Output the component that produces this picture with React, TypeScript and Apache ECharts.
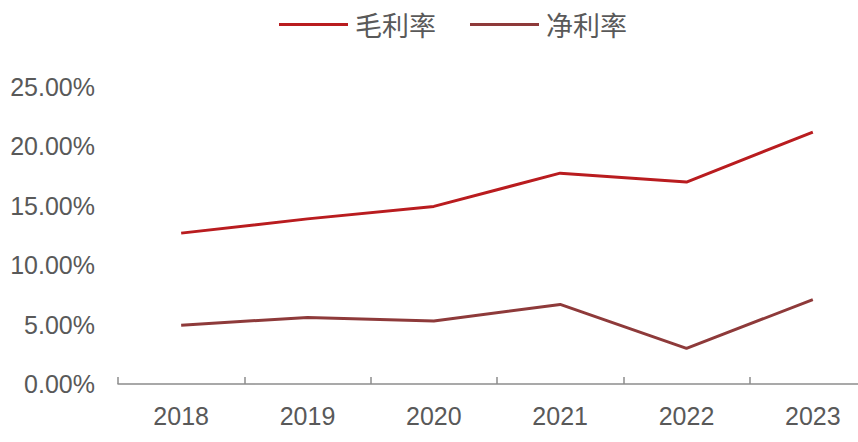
import React, { useEffect, useRef } from "react";
import * as echarts from "echarts";

const categories = ["2018", "2019", "2020", "2021", "2022", "2023"];
const grossMargin = [12.7, 13.9, 14.95, 17.75, 17.0, 21.2];
const netMargin = [4.95, 5.6, 5.3, 6.7, 3.0, 7.1];
const seriesNames = ["毛利率", "净利率"];

const FONT = "'Liberation Sans', Arial, 'Noto Sans CJK SC', sans-serif";

export default function App() {
  const ref = useRef<HTMLDivElement>(null);
  useEffect(() => {
    if (!ref.current) return;
    const chart = echarts.init(ref.current, null, { renderer: "svg" });
    chart.setOption({
      animation: false,
      legend: {
        left: 279,
        top: 11,
        padding: 0,
        itemWidth: 69,
        itemHeight: 3,
        itemGap: 34,
        icon: "rect",
        textStyle: { fontSize: 27, color: "#595959", fontFamily: "'Noto Sans CJK SC', sans-serif", padding: [0, 0, 0, 2] },
        data: seriesNames,
      },
      grid: { left: 118, right: 0, top: 87, bottom: 58, containLabel: false },
      xAxis: {
        type: "category",
        data: categories,
        boundaryGap: true,
        axisLine: { lineStyle: { color: "#8c8c8c", width: 1.5 } },
        axisTick: { show: true, inside: true, length: 7, lineStyle: { color: "#8c8c8c", width: 1.5 } },
        axisLabel: { fontSize: 25, color: "#595959", margin: 19, fontFamily: FONT },
      },
      yAxis: {
        type: "value",
        min: 0,
        max: 25,
        interval: 5,
        axisLine: { show: false },
        axisTick: { show: false },
        splitLine: { show: false },
        axisLabel: {
          fontSize: 25,
          color: "#595959",
          margin: 23,
          fontFamily: FONT,
          formatter: (v: number) => v.toFixed(2) + "%",
        },
      },
      series: [
        {
          name: seriesNames[0],
          type: "line",
          data: grossMargin,
          symbol: "none",
          lineStyle: { color: "#B91C1F", width: 3 },
          itemStyle: { color: "#B91C1F" },
        },
        {
          name: seriesNames[1],
          type: "line",
          data: netMargin,
          symbol: "none",
          lineStyle: { color: "#8E3A3A", width: 3 },
          itemStyle: { color: "#8E3A3A" },
        },
      ],
    });
    return () => chart.dispose();
  }, []);
  return (
    <div style={{ width: 858, height: 442, position: "absolute", left: 0, top: 0, overflow: "hidden" }}>
      <div ref={ref} style={{ width: 876, height: 442 }} />
    </div>
  );
}
